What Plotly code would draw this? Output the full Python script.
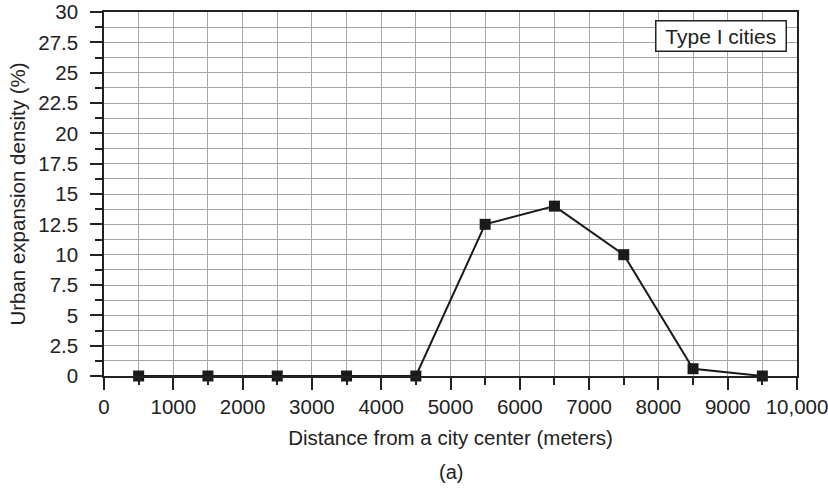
import plotly.graph_objects as go

distance = [500, 1500, 2500, 3500, 4500, 5500, 6500, 7500, 8500, 9500]
density = [0, 0, 0, 0, 0, 12.5, 14, 10, 0.6, 0]
x_tickvals = [0, 1000, 2000, 3000, 4000, 5000, 6000, 7000, 8000, 9000, 10000]
x_ticktext = ["0", "1000", "2000", "3000", "4000", "5000", "6000", "7000", "8000", "9000", "10,000"]
y_tickvals = [0, 2.5, 5, 7.5, 10, 12.5, 15, 17.5, 20, 22.5, 25, 27.5, 30]
y_ticktext = ["0", "2.5", "5", "7.5", "10", "12.5", "15", "17.5", "20", "22.5", "25", "27.5", "30"]

font_family = "Liberation Sans, Arial, sans-serif"
fig = go.Figure()
fig.add_trace(go.Scatter(
    x=distance, y=density, mode="lines+markers",
    line=dict(color="#1a1a1a", width=2),
    marker=dict(symbol="square", size=11, color="#1a1a1a"),
    showlegend=False, cliponaxis=False,
))

fig.update_layout(
    width=828, height=489,
    margin=dict(l=104, r=31, t=12, b=113),
    paper_bgcolor="white", plot_bgcolor="white",
    font=dict(family=font_family, size=20, color="#222"),
    xaxis=dict(
        range=[0, 10000], tickmode="array", tickvals=x_tickvals, ticktext=x_ticktext,
        showgrid=True, gridcolor="#a6a6a6", gridwidth=1,
        ticks="outside", ticklen=12, tickcolor="#222", tickwidth=1.5,
        minor=dict(dtick=500, tick0=0, showgrid=True, gridcolor="#a6a6a6", gridwidth=1,
                   ticks="outside", ticklen=7, tickcolor="#222"),
        showline=True, linecolor="#222", linewidth=1.5, mirror=True,
        zeroline=False, automargin=False, ticklabeloverflow="allow",
        title=dict(text="Distance from a city center (meters)", standoff=13, font=dict(size=20.5)),
        tickfont=dict(size=20.5),
    ),
    yaxis=dict(
        range=[0, 30], tickmode="array", tickvals=y_tickvals, ticktext=y_ticktext,
        showgrid=True, gridcolor="#a6a6a6", gridwidth=1,
        ticks="outside", ticklen=12, tickcolor="#222", tickwidth=1.5,
        minor=dict(dtick=1.25, tick0=0, showgrid=True, gridcolor="#a6a6a6", gridwidth=1,
                   ticks="outside", ticklen=7, tickcolor="#222"),
        showline=True, linecolor="#222", linewidth=1.5, mirror=True,
        zeroline=False, automargin=False, ticklabeloverflow="allow",
        ticklabelstandoff=8,
        title=dict(text="Urban expansion density (%)", standoff=7, font=dict(size=20.5)),
        tickfont=dict(size=20.5),
    ),
    annotations=[
        dict(text="\u00a0Type I cities\u00a0", xref="paper", yref="paper", x=0.9856, y=0.978,
             xanchor="right", yanchor="top", showarrow=False,
             bordercolor="#222", borderwidth=1.5, borderpad=3, bgcolor="white",
             font=dict(size=21, color="#222")),
        dict(text="(a)", xref="paper", yref="paper", x=0.5, y=-0.228,
             xanchor="center", yanchor="top", showarrow=False,
             font=dict(size=20, color="#222")),
    ],
)
fig.write_html("out.html", config={"displayModeBar": False},
               post_script="document.body.style.margin='0';")
